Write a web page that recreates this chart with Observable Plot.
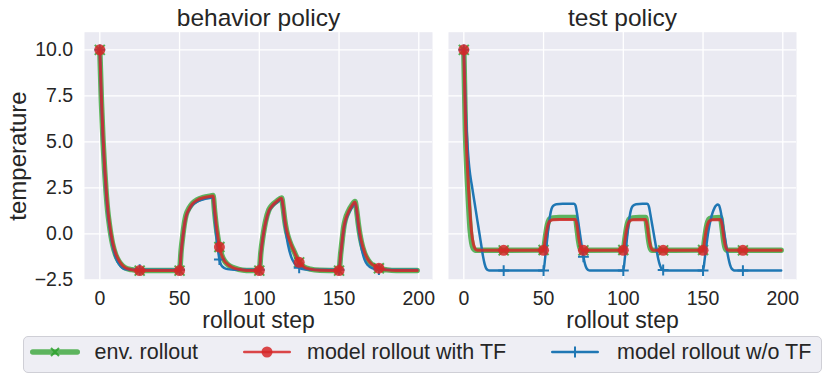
<!DOCTYPE html>
<html><head><meta charset="utf-8">
<script src="https://cdn.jsdelivr.net/npm/d3@7"></script>
<script src="https://cdn.jsdelivr.net/npm/@observablehq/plot@0.6"></script>
<style>
body{margin:0;background:#fff;font-family:"Liberation Sans",Arial,sans-serif;}
#wrap{position:relative;width:831px;height:381px;overflow:hidden;}
#chart svg{display:block;}
#legend{position:absolute;left:23px;top:336px;width:799px;height:37px;box-sizing:border-box;border:1px solid #cfcfd6;border-radius:5px;background:#eeeef4;}
.sw{position:absolute;top:4.7px;}
.lt{position:absolute;top:4.8px;font-size:21.5px;line-height:21.5px;color:#262626;white-space:nowrap;}
</style></head><body>
<div id="wrap"><div id="chart"></div><div id="legend"></div></div>
<script>
const panels = ["behavior policy", "test policy"];
const seriesNames = ["env. rollout", "model rollout with TF", "model rollout w/o TF"];
const seriesColors = ["#2ca02c", "#d62728", "#1f77b4"];
const xTicks = [0, 50, 100, 150, 200];
const yTicks = [-2.5, 0, 2.5, 5, 7.5, 10];

// [rollout step, temperature]
const behaviorEnv = [[0,10],[1,7.2],[2,5.1],[3,3.5],[4,2.2],[5,1.2],[6,0.5],[8,-0.55],[10,-1.15],[12,-1.5],[14,-1.72],[16,-1.85],[20,-1.95],[25,-2.0],[50,-2.0],[51,-0.9],[52,-0.1],[53,0.55],[54,1.0],[56,1.4],[58,1.65],[61,1.85],[65,1.98],[69,2.05],[71,2.08],[72,1.2],[73,0.4],[74,-0.2],[75,-0.72],[76,-1.05],[78,-1.45],[80,-1.65],[83,-1.82],[87,-1.93],[92,-1.99],[100,-2.0],[101,-1.0],[102,-0.3],[103,0.25],[104,0.7],[106,1.3],[108,1.55],[111,1.78],[114,1.95],[115,1.4],[116,0.7],[117,0.2],[118,-0.15],[120,-0.62],[122,-1.0],[125,-1.55],[128,-1.8],[132,-1.92],[138,-1.98],[150,-2.0],[151,-1.1],[152,-0.3],[153,0.4],[154,0.8],[156,1.25],[158,1.55],[160,1.75],[161,1.3],[162,0.6],[163,0.0],[164,-0.45],[166,-1.05],[168,-1.4],[171,-1.7],[175,-1.87],[180,-1.96],[186,-2.0],[199,-2.0]];
const behaviorTF = [[0,10],[1,7.4],[2,5.3],[3,3.7],[4,2.4],[5,1.35],[6,0.6],[8,-0.45],[10,-1.08],[12,-1.45],[14,-1.7],[16,-1.84],[20,-1.95],[25,-2.0],[50,-2.0],[51,-1.0],[52,-0.2],[53,0.45],[54,0.92],[56,1.35],[58,1.62],[61,1.83],[65,1.96],[69,2.03],[71,2.06],[72,1.3],[73,0.5],[74,-0.15],[75,-0.72],[76,-1.05],[78,-1.45],[80,-1.65],[83,-1.82],[87,-1.93],[92,-1.99],[100,-2.0],[101,-1.05],[102,-0.35],[103,0.2],[104,0.65],[106,1.25],[108,1.52],[111,1.76],[114,1.93],[115,1.45],[116,0.75],[117,0.25],[118,-0.1],[120,-0.6],[122,-1.0],[125,-1.55],[128,-1.8],[132,-1.92],[138,-1.98],[150,-2.0],[151,-1.15],[152,-0.35],[153,0.35],[154,0.75],[156,1.2],[158,1.52],[160,1.73],[161,1.35],[162,0.65],[163,0.05],[164,-0.4],[166,-1.0],[168,-1.38],[171,-1.68],[175,-1.87],[180,-1.96],[186,-2.0],[199,-2.0]];
const behaviorNoTF = [[0,10],[1,7.1],[2,5.0],[3,3.4],[4,2.1],[5,1.1],[6,0.4],[8,-0.65],[10,-1.3],[12,-1.65],[14,-1.85],[16,-1.93],[20,-1.95],[25,-1.95],[50,-1.95],[51,-1.0],[52,-0.2],[53,0.45],[54,0.9],[56,1.3],[58,1.55],[61,1.75],[65,1.88],[69,1.95],[71,1.97],[72,0.9],[73,-0.1],[74,-0.8],[75,-1.4],[76,-1.68],[78,-1.86],[80,-1.92],[85,-1.95],[100,-1.95],[101,-1.05],[102,-0.35],[103,0.2],[104,0.6],[106,1.2],[108,1.47],[111,1.7],[114,1.88],[115,1.3],[116,0.5],[117,-0.1],[118,-0.6],[120,-1.25],[122,-1.6],[125,-1.85],[128,-1.93],[135,-1.96],[150,-1.96],[151,-1.15],[152,-0.4],[153,0.25],[154,0.65],[156,1.1],[158,1.42],[160,1.65],[161,1.2],[162,0.4],[163,-0.25],[164,-0.75],[166,-1.4],[168,-1.7],[171,-1.88],[175,-1.94],[185,-1.96],[199,-1.96]];
const testEnv = [[0,10],[1,5.6],[2,3.3],[3,1.6],[4,0.2],[5,-0.5],[6,-0.8],[7,-0.88],[8,-0.9],[25,-0.9],[50,-0.88],[51,-0.3],[52,0.3],[53,0.66],[54,0.82],[56,0.86],[60,0.88],[70,0.88],[71,0.3],[72,-0.4],[73,-0.8],[74,-0.9],[75,-0.9],[100,-0.88],[101,-0.3],[102,0.3],[103,0.66],[104,0.82],[106,0.86],[110,0.88],[114,0.88],[115,0.3],[116,-0.4],[117,-0.8],[118,-0.9],[125,-0.9],[150,-0.88],[151,-0.3],[152,0.3],[153,0.66],[154,0.82],[156,0.86],[161,0.88],[162,0.3],[163,-0.4],[164,-0.8],[165,-0.9],[175,-0.9],[199,-0.9]];
const testTF = [[0,10],[1,6.3],[2,4.1],[3,2.4],[4,1.0],[5,0.0],[6,-0.55],[7,-0.8],[8,-0.88],[9,-0.9],[25,-0.9],[50,-0.9],[51,-0.35],[52,0.2],[53,0.55],[54,0.7],[56,0.76],[60,0.78],[70,0.78],[71,0.45],[72,-0.2],[73,-0.65],[74,-0.85],[75,-0.9],[100,-0.9],[101,-0.35],[102,0.2],[103,0.55],[104,0.7],[106,0.76],[114,0.78],[115,0.45],[116,-0.2],[117,-0.65],[118,-0.85],[119,-0.9],[125,-0.9],[150,-0.9],[151,-0.35],[152,0.2],[153,0.55],[154,0.7],[156,0.76],[161,0.78],[162,0.45],[163,-0.2],[164,-0.65],[165,-0.85],[166,-0.9],[175,-0.9],[199,-0.9]];
const testNoTF = [[0,10],[1,7.2],[2,5.3],[3,4.0],[4,3.2],[5,2.65],[6,2.1],[7,1.55],[8,1.0],[9,0.45],[10,-0.1],[11,-0.65],[12,-1.2],[13,-1.62],[14,-1.88],[15,-1.97],[16,-2.0],[25,-2.0],[50,-2.0],[51,-1.3],[52,-0.5],[53,0.3],[54,0.95],[55,1.35],[56,1.52],[58,1.61],[62,1.63],[69,1.63],[70,1.55],[71,1.1],[72,0.5],[73,-0.1],[74,-0.7],[75,-1.25],[76,-1.65],[77,-1.88],[78,-1.97],[79,-2.0],[100,-2.0],[101,-1.3],[102,-0.5],[103,0.3],[104,0.95],[105,1.35],[106,1.52],[108,1.61],[112,1.63],[115,1.63],[116,1.5],[117,1.05],[118,0.55],[119,0.05],[120,-0.45],[121,-0.95],[122,-1.4],[123,-1.72],[124,-1.9],[125,-1.97],[126,-2.0],[150,-2.0],[151,-1.4],[152,-0.7],[153,-0.05],[154,0.45],[155,0.85],[156,1.15],[157,1.37],[158,1.52],[159,1.6],[160,1.55],[161,1.25],[162,0.75],[163,0.2],[164,-0.35],[165,-0.9],[166,-1.35],[167,-1.7],[168,-1.9],[169,-1.97],[170,-2.0],[175,-2.0],[199,-2.0]];

const rows = (pairs, panel) => pairs.map(([t, v]) => ({t, v, panel}));
const envRows = [...rows(behaviorEnv, panels[0]), ...rows(testEnv, panels[1])];
const tfRows = [...rows(behaviorTF, panels[0]), ...rows(testTF, panels[1])];
const noTfRows = [...rows(behaviorNoTF, panels[0]), ...rows(testNoTF, panels[1])];
const every25 = d => d.t % 25 === 0;

const font = "'Liberation Sans', Arial, sans-serif";
const chart = Plot.plot({
  width: 831, height: 335,
  marginTop: 31.7, marginBottom: 55.7, marginLeft: 83, marginRight: 33.7,
  style: {fontFamily: font, color: "#262626", background: "transparent"},
  x: {domain: [-9.6, 208.6]},
  y: {domain: [-2.5, 10.96]},
  fx: {domain: panels, paddingInner: 0.0427, paddingOuter: 0},
  marks: [
    Plot.frame({fill: "#eaeaf2", stroke: null}),
    Plot.gridX(xTicks, {stroke: "#ffffff", strokeOpacity: 1, strokeWidth: 1.3}),
    Plot.gridY(yTicks, {stroke: "#ffffff", strokeOpacity: 1, strokeWidth: 1.3}),
    Plot.axisFx({anchor: "top", tickSize: 0, tickPadding: 6.7, fontSize: 24.5, label: null}),
    Plot.axisX(xTicks, {tickSize: 0, tickPadding: 10.9, fontSize: 19.5, label: null}),
    Plot.axisY(yTicks, {tickSize: 0, tickPadding: 11.3, fontSize: 19.5, tickFormat: d3.format(".1f"), label: null}),
    Plot.text(panels, {fx: d => d, text: () => "rollout step", frameAnchor: "bottom", lineAnchor: "bottom", dy: 47.7, fontSize: 23}),
    Plot.text([panels[0]], {fx: d => d, text: () => "temperature", frameAnchor: "left", textAnchor: "middle", lineAnchor: "middle", rotate: -90, dx: -66, fontSize: 24}),
    Plot.line(envRows, {x: "t", y: "v", fx: "panel", stroke: seriesColors[0], strokeWidth: 5.5, strokeOpacity: 0.75, curve: "monotone-x"}),
    Plot.dot(envRows.filter(every25), {x: "t", y: "v", fx: "panel", symbol: "times", stroke: seriesColors[0], strokeWidth: 2, r: 4.6, strokeOpacity: 0.8}),
    Plot.line(noTfRows, {x: "t", y: "v", fx: "panel", stroke: seriesColors[2], strokeWidth: 2.5, curve: "monotone-x"}),
    Plot.dot(noTfRows.filter(every25), {x: "t", y: "v", fx: "panel", symbol: "plus", stroke: seriesColors[2], strokeWidth: 2, r: 3.6}),
    Plot.line(tfRows, {x: "t", y: "v", fx: "panel", stroke: seriesColors[1], strokeWidth: 3, strokeOpacity: 0.85, curve: "monotone-x"}),
    Plot.dot(tfRows.filter(every25), {x: "t", y: "v", fx: "panel", fill: seriesColors[1], fillOpacity: 0.85, r: 5.5})
  ]
});
document.getElementById("chart").appendChild(chart);

// legend
const legend = document.getElementById("legend");
const items = [
  {sw: 6, w: 50, tx: 70.5, marker: "x"},
  {sw: 219, w: 48, tx: 283, marker: "o"},
  {sw: 527, w: 48, tx: 593, marker: "+"}
];
items.forEach((it, i) => {
  const c = seriesColors[i];
  const m = it.w / 2;
  let mk = "";
  if (it.marker === "x") mk = `<path d="M${m-4},6 L${m+4},14 M${m-4},14 L${m+4},6" stroke="${c}" stroke-width="2" stroke-opacity="0.85"/>`;
  if (it.marker === "o") mk = `<circle cx="${m}" cy="10" r="5.5" fill="${c}" fill-opacity="0.85"/>`;
  if (it.marker === "+") mk = `<path d="M${m-5.5},10 L${m+5.5},10 M${m},4.5 L${m},15.5" stroke="${c}" stroke-width="2"/>`;
  const sw = i === 0 ? 5.5 : 2.5;
  const op = i === 0 ? 0.75 : (i === 1 ? 0.85 : 1);
  legend.insertAdjacentHTML("beforeend",
    `<svg class="sw" style="left:${it.sw}px" width="${it.w}" height="20"><line x1="${sw/2}" x2="${it.w - sw/2}" y1="10" y2="10" stroke="${c}" stroke-width="${sw}" stroke-opacity="${op}" stroke-linecap="round"/>${mk}</svg>` +
    `<span class="lt" style="left:${it.tx}px">${seriesNames[i]}</span>`);
});
</script>
</body></html>
